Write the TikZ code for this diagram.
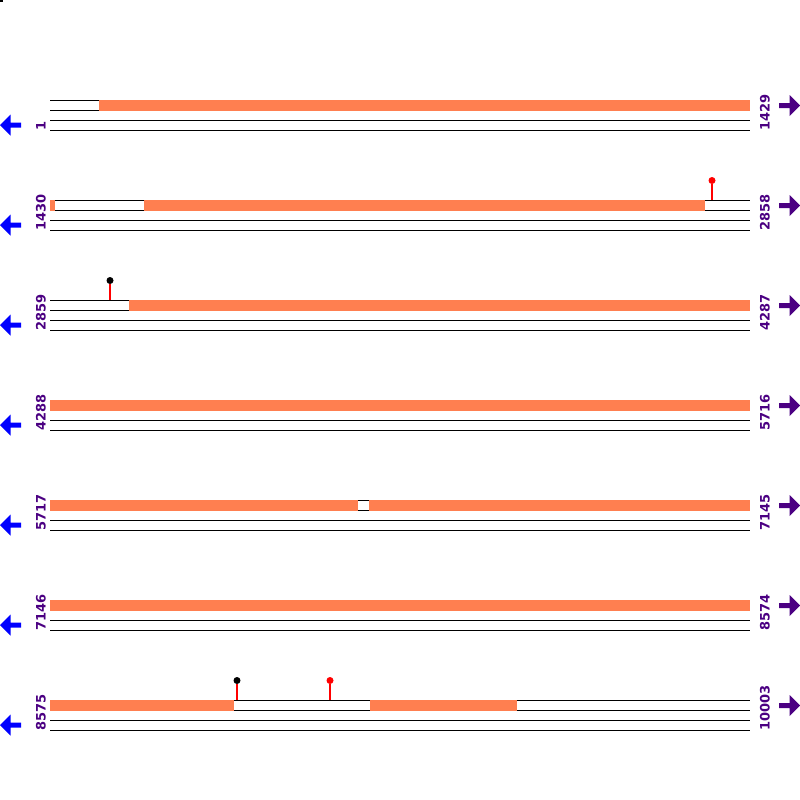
\documentclass[tikz,border=0pt]{standalone}
\usepackage{fontspec}
\newfontfamily\labfont{DejaVu Sans}
\definecolor{coral}{HTML}{FF7F50}
\definecolor{indig}{HTML}{4B0082}
\tikzset{
  trk/.style={line width=1pt, black},
  seg/.style={fill=coral, draw=none},
  numlab/.style={font=\labfont\bfseries\fontsize{13}{13}\selectfont, text=indig, rotate=90, anchor=west, inner sep=0pt},
  stem/.style={red, line width=1.3pt},
  lolli/.style={circle, inner sep=0pt, minimum size=7pt, draw=none},
  larr/.style={fill=blue, draw=none},
  rarr/.style={fill=indig, draw=none}
}
\begin{document}
\begin{tikzpicture}[x=1pt,y=-1pt]
\useasboundingbox (0,0) rectangle (800,800);
\fill[black] (0,0) rectangle (2.5,2.5);
% rows
\foreach \r/\a/\b in {0/1/1429,1/1430/2858,2/2859/4287,3/4288/5716,4/5717/7145,5/7146/8574,6/8575/10003}{
  \pgfmathsetmacro{\yo}{100+100*\r}
  \begin{scope}[yshift=-\yo pt]
    \foreach \yy in {0,10,20,30} \draw[trk] (50,\yy) -- (750,\yy);
    \node[numlab] (l\r) at (41,30.5) {\a};
    \node[numlab] (r\r) at (765,30.5) {\b};
    \fill[larr] (0,25) -- (10.5,14.5) -- (10.5,22.5) -- (21,22.5) -- (21,27.5) -- (10.5,27.5) -- (10.5,35.5) -- cycle;
    \fill[rarr] (800,5.5) -- (789.5,-5) -- (789.5,3) -- (779,3) -- (779,8) -- (789.5,8) -- (789.5,16) -- cycle;
  \end{scope}
}
% orange segments
\fill[seg] (99,99.5) rectangle (750,110.5);
\fill[seg] (50,199.5) rectangle (55,210.5);
\fill[seg] (144,199.5) rectangle (705,210.5);
\fill[seg] (129,299.5) rectangle (750,310.5);
\fill[seg] (50,399.5) rectangle (750,410.5);
\fill[seg] (50,499.5) rectangle (358,510.5);
\fill[seg] (369,499.5) rectangle (750,510.5);
\fill[seg] (50,599.5) rectangle (750,610.5);
\fill[seg] (50,699.5) rectangle (234,710.5);
\fill[seg] (370,699.5) rectangle (517,710.5);
% lollipops
\coordinate (b1) at (712,200);
\coordinate (b2) at (110,300);
\coordinate (b3) at (237,700);
\coordinate (b4) at (330,700);
\node[lolli, fill=red] (p1) at (712,180.5) {};
\node[lolli, fill=black] (p2) at (110,280.5) {};
\node[lolli, fill=black] (p3) at (237,680.5) {};
\node[lolli, fill=red] (p4) at (330,680.5) {};
\draw[stem] (b1) -- (p1.south);
\draw[stem] (b2) -- (p2.south);
\draw[stem] (b3) -- (p3.south);
\draw[stem] (b4) -- (p4.south);
\end{tikzpicture}
\end{document}
